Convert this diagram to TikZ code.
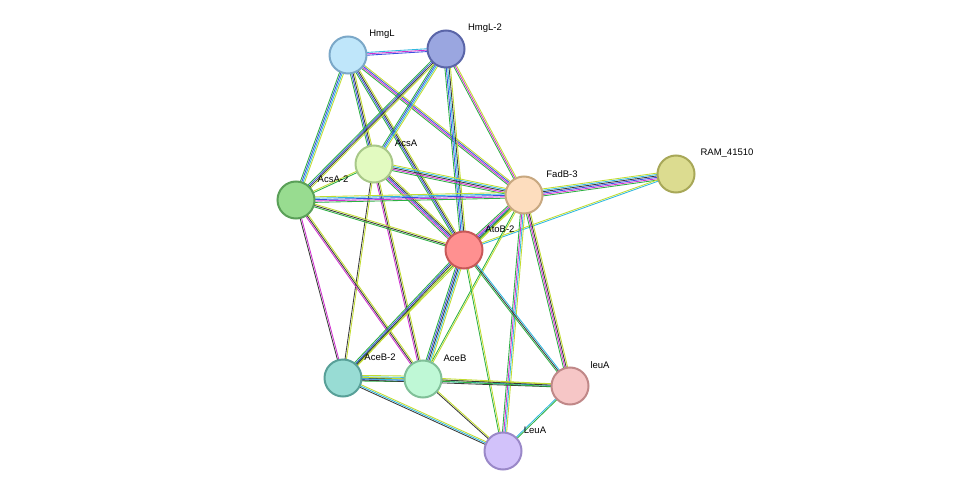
\documentclass[tikz,border=0pt]{standalone}
\usepackage{fontspec}
\setmainfont{Liberation Sans}
\usetikzlibrary{calc,backgrounds}
\definecolor{eg}{HTML}{2DB043}
\definecolor{eb}{HTML}{3A4FE0}
\definecolor{em}{HTML}{D030D0}
\definecolor{ek}{HTML}{3A3A3A}
\definecolor{ec}{HTML}{30B8E0}
\definecolor{ey}{HTML}{C2DC30}
\newcommand\sedge[3]{\def\nn{0}\foreach \c in {#3}{\xdef\nn{\the\numexpr\nn+1\relax}}%
\foreach \c [count=\i] in {#3}{\pgfmathsetmacro\o{(\i-(\nn+1)/2)*1.4}%
\draw[draw=\c,line width=0.85pt] ($(#1)!\o pt!90:(#2)$) -- ($(#2)!\o pt!-90:(#1)$);}}
\tikzset{prot/.style={circle,minimum size=37pt,line width=2pt,inner sep=0pt},
lab/.style={font=\fontsize{9.5}{11}\selectfont,text=black}}
\begin{document}
\begin{tikzpicture}[x=1pt,y=-1pt]
\useasboundingbox (0,0) rectangle (976,497);
\node[prot,fill={rgb,255:red,191;green,230;blue,250},draw={rgb,255:red,123;green,168;blue,200}] (hl) at (348,55) {};
\node[prot,fill={rgb,255:red,154;green,166;blue,224},draw={rgb,255:red,90;green,101;blue,168}] (hl2) at (446,49) {};
\node[prot,fill={rgb,255:red,226;green,250;blue,192},draw={rgb,255:red,168;green,200;blue,136}] (aa) at (374,164) {};
\node[prot,fill={rgb,255:red,152;green,220;blue,144},draw={rgb,255:red,90;green,160;blue,88}] (aa2) at (296,200) {};
\node[prot,fill={rgb,255:red,253;green,221;blue,190},draw={rgb,255:red,200;green,168;blue,128}] (fb) at (524,195) {};
\node[prot,fill={rgb,255:red,220;green,220;blue,144},draw={rgb,255:red,168;green,168;blue,88}] (ram) at (676,174) {};
\node[prot,fill={rgb,255:red,255;green,144;blue,144},draw={rgb,255:red,200;green,88;blue,88}] (ato) at (464,250) {};
\node[prot,fill={rgb,255:red,152;green,220;blue,212},draw={rgb,255:red,88;green,160;blue,152}] (ab2) at (343,378) {};
\node[prot,fill={rgb,255:red,191;green,248;blue,214},draw={rgb,255:red,128;green,192;blue,152}] (ab) at (423,379) {};
\node[prot,fill={rgb,255:red,246;green,198;blue,198},draw={rgb,255:red,192;green,136;blue,136}] (la) at (570,386) {};
\node[prot,fill={rgb,255:red,210;green,194;blue,250},draw={rgb,255:red,154;green,136;blue,200}] (lA) at (503,451) {};
\begin{pgfonlayer}{background}
\sedge{hl}{hl2}{eb,em,ec}
\sedge{hl}{aa}{eg,eb,ek,ey}
\sedge{hl}{aa2}{eg,eb,ec,ey}
\sedge{hl}{fb}{eg,em,eb,ey}
\sedge{hl}{ato}{eg,eb,ek,ey}
\sedge{hl2}{aa}{eg,eb,ec,ey}
\sedge{hl2}{aa2}{eg,eb,ek,ey}
\sedge{hl2}{fb}{eg,em,ey}
\sedge{hl2}{ato}{eg,eb,ec,ek,ey}
\sedge{aa}{aa2}{ey,eg}
\sedge{aa}{fb}{eg,em,ek,ec,ey}
\sedge{aa}{ato}{eg,em,eb,ek,ey}
\sedge{aa}{ab2}{ek,ey}
\sedge{aa}{ab}{em,ek,ey}
\sedge{aa2}{fb}{eg,em,eb,ec,ey}
\sedge{aa2}{ato}{eg,ek,ey}
\sedge{aa2}{ab2}{ek,em}
\sedge{aa2}{ab}{em,ek,ey}
\sedge{fb}{ram}{eg,em,eb,ek,ec,ey}
\sedge{ato}{ram}{ec,ey}
\sedge{fb}{ato}{eg,em,eb,ek,ey}
\sedge{fb}{ab2}{eg,ey}
\sedge{fb}{ab}{eg,ey}
\sedge{fb}{la}{eg,em,ek,ey}
\sedge{fb}{lA}{eg,em,ec,ey}
\sedge{ato}{ab2}{eg,eb,ek,ey}
\sedge{ato}{ab}{eg,eb,ek,ec,ey}
\sedge{ato}{la}{eg,ek,ec}
\sedge{ato}{lA}{eg,ey}
\sedge{ab2}{ab}{eg,eb,ek,ec,ey}
\sedge{ab2}{la}{ek,ec,ey}
\sedge{ab2}{lA}{ek,ec,ey}
\sedge{ab}{la}{eg,ek,ey}
\sedge{ab}{lA}{ek,ey}
\sedge{la}{lA}{ec,eg}
\end{pgfonlayer}
\node[lab] (t1) at (382,34) {HmgL};
\node[lab] (t2) at (485,28) {HmgL-2};
\node[lab] (t3) at (406,143) {AcsA};
\node[lab] (t4) at (333,179) {AcsA-2};
\node[lab] (t5) at (562,174) {FadB-3};
\node[lab] (t6) at (727,153) {RAM\_41510};
\node[lab] (t7) at (500,229) {AtoB-2};
\node[lab] (t8) at (380,357) {AceB-2};
\node[lab] (t9) at (455,358) {AceB};
\node[lab] (t10) at (600,365) {leuA};
\node[lab] (t11) at (535,430) {LeuA};
\end{tikzpicture}
\end{document}
